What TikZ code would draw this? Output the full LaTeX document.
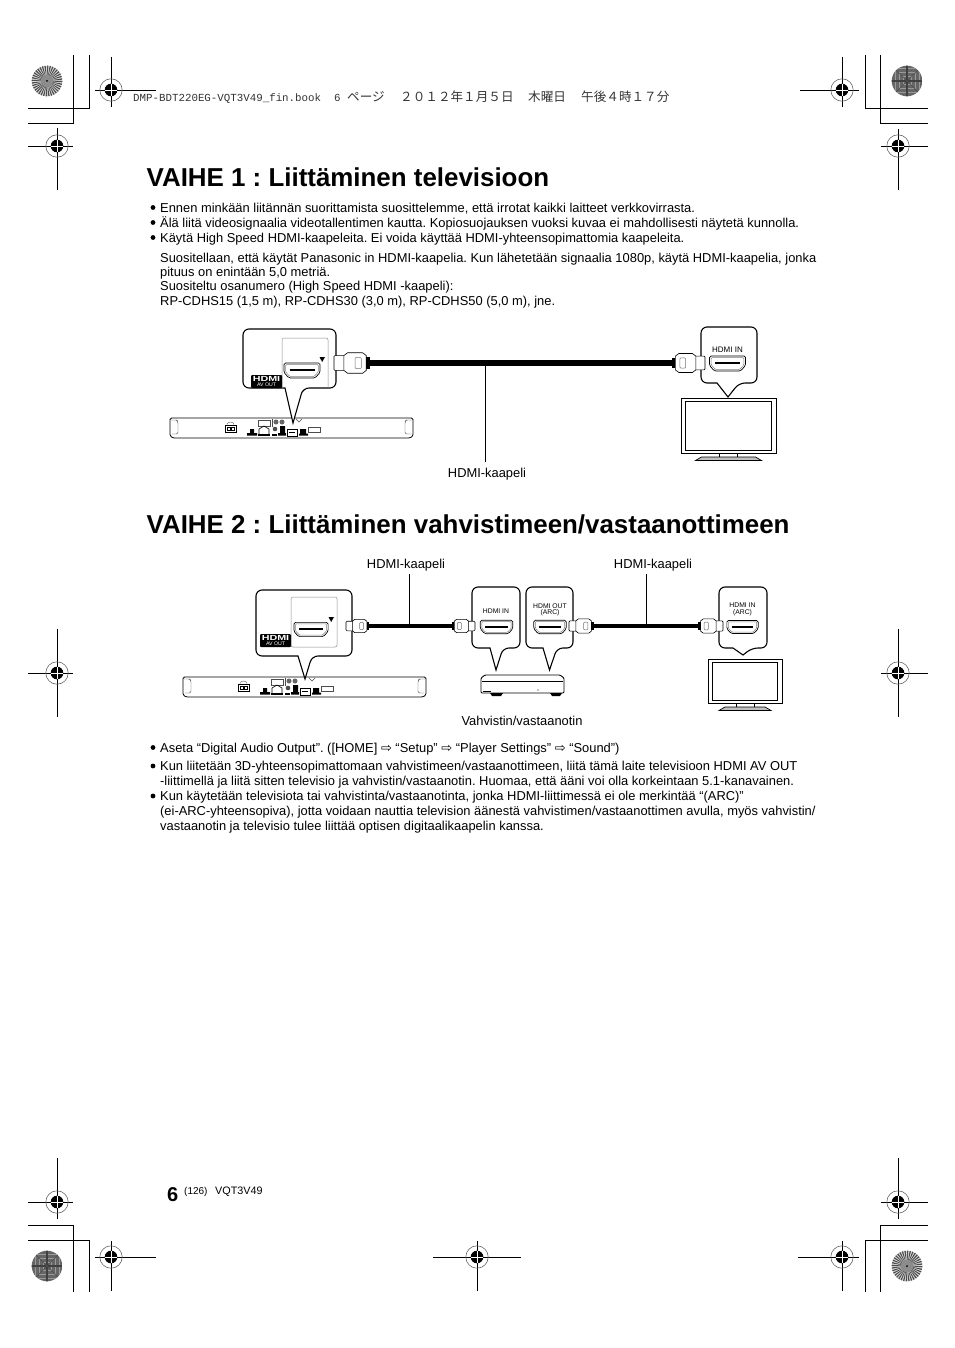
\documentclass[tikz,border=0pt]{standalone}
\usepackage{fontspec}
\setmainfont{Liberation Sans}
\setmonofont{Liberation Mono}
\newfontfamily\cjk{Noto Sans CJK JP}
\newfontfamily\arrowfont{DejaVu Sans}
\usepackage{xcolor}
\usepackage{tikz}
\frenchspacing

\tikzset{
  headtext/.style={anchor=base west,inner sep=0pt,text=black!80,font=\cjk\fontsize{12.6}{14}\selectfont},
  titletext/.style={anchor=base west,inner sep=0pt,font=\bfseries\fontsize{25.9}{30}\selectfont},
  bodytext/.style={anchor=base west,inner sep=0pt,font=\fontsize{12.9}{14}\selectfont},
  captext/.style={inner sep=0pt,font=\fontsize{12.9}{14}\selectfont},
  porttext/.style={inner sep=0pt,align=center,font=\fontsize{#1}{#1}\selectfont},
  cropline/.style={line width=0.8pt},
  callout/.style={draw,line width=1.1pt,fill=white},
  cable/.style={line width=5.5pt},
  thincable/.style={line width=3.6pt},
  leader/.style={line width=0.7pt},
}

% registration mark: x, y, left, right, up, down
\newcommand{\regmark}[6]{
  \draw[cropline] (#1-#3,#2) -- (#1+#4,#2) (#1,#2-#5) -- (#1,#2+#6);
  \draw[black!60,line width=0.6pt] (#1,#2) circle (11.2pt);
  \fill (#1,#2) circle (6.3pt);
  \draw[white,line width=0.7pt] (#1-6.3,#2) -- (#1+6.3,#2) (#1,#2-6.3) -- (#1,#2+6.3);
}
% round test patches
\newcommand{\stardisc}[2]{
  \fill[black!15] (#1,#2) circle (15.3pt);
  \foreach \a in {0,10,...,350}
    \fill[black!70] (#1,#2) -- +(\a:15.3) -- +(\a+5:15.3) -- cycle;
  \fill[black!45] (#1,#2) circle (6pt);
  \fill (#1,#2) circle (1pt);
}
\newcommand{\darkdisc}[2]{
  \begin{scope}
    \clip (#1,#2) circle (15.3pt);
    \fill[black!60] (#1-16,#2-16) rectangle (#1+16,#2+16);
    \foreach \r in {4,8,12}
      \draw[black!40,line width=1pt] (#1-\r,#2-\r) rectangle (#1+\r,#2+\r);
    \draw[black!75,line width=1.2pt] (#1-16,#2) -- (#1+16,#2) (#1,#2-16) -- (#1,#2+16);
    \draw[black!70,line width=0.6pt] (#1-16,#2-16) -- (#1+16,#2+16) (#1-16,#2+16) -- (#1+16,#2-16);
  \end{scope}
}
% callout with pointer: left, top, right, bottom, pointer left, pointer right, tip x, tip y
\newcommand{\calloutbox}[8]{
  \draw[callout] (#5,#4) [rounded corners=6pt] -- (#1,#4) -- (#1,#2) -- (#3,#2) -- (#3,#4) -- (#6,#4) [sharp corners] -- (#7,#8) -- cycle;
}
% socket: x, y, scale
\newcommand{\hdmiport}[3]{
  \begin{scope}[shift={(#1,#2)},scale=#3]
    \draw[line width=0.7pt,rounded corners=1.5pt,fill=white] (-18,-7.5) -- (18,-7.5) -- (18,2) -- (13,7.5) -- (-13,7.5) -- (-18,2) -- cycle;
    \draw[black!50,line width=0.5pt,rounded corners=1pt] (-16.3,-6) -- (16.3,-6) -- (16.3,1.5) -- (12,6) -- (-12,6) -- (-16.3,1.5) -- cycle;
    \draw[line width=2.2pt] (-12.5,-0.3) -- (12.5,-0.3);
  \end{scope}
}
% plug: x, y, direction, scale, name of the cable end
\newcommand{\hdmiplug}[5]{
  \begin{scope}[shift={(#1,#2)},xscale=#3*#4,yscale=#4]
    \draw[line width=0.6pt,fill=white,rounded corners=1pt] (0,-6) -- (9,-6) -- (9,6) -- (0,6) -- cycle;
    \draw[line width=0.6pt,fill=white] (8,-6) -- (11,-8.3) -- (23,-8.3) -- (26,-6) -- (26,6) -- (23,8.3) -- (11,8.3) -- (8,6) -- cycle;
    \draw[black!55,line width=0.5pt,rounded corners=1pt] (17,-4.5) rectangle (22,4.5);
    \fill (26,-4.5) rectangle (29,4.5);
    \coordinate (#5) at (29,0);
  \end{scope}
}
% player rear panel: x, y
\newcommand{\bdplayer}[2]{
  \begin{scope}[shift={(#1,#2)}]
    \draw[line width=0.8pt,fill=white,rounded corners=1.5pt] (0,0) -- (243,0) -- (243,18) -- (240,20) -- (3,20) -- (0,18) -- cycle;
    \draw[line width=0.4pt,black!70,rounded corners=1.5pt] (1,2) -- (7,2) -- (8,4) -- (8,16) -- (2,16)  (242,2) -- (236,2) -- (235,4) -- (235,16) -- (241,16);
    \draw[line width=0.5pt] (55,7) rectangle (66,14) (57,9) rectangle (60,12) (61,9) rectangle (64,12);
    \draw[line width=0.4pt,black!60] (57,6.5) arc (180:360:3.5 and 2.5);
    \fill (77,15) rectangle (87,17.5) (80,11) rectangle (84,15);
    \draw[line width=0.4pt,black!70] (88,2) rectangle (100,8);
    \draw[line width=0.6pt] (89,16) -- (89,11) -- (94,8) -- (99,11) -- (99,16);
    \fill (88,15.5) rectangle (100,17.5);
    \draw[line width=0.5pt,black!70] (102,1) -- (102,9);
    \fill[black!60] (106,4) circle (2.5pt) (112,4) circle (2.5pt);
    \fill[black!70] (105,11) circle (2.3pt);
    \fill (108,15) rectangle (116,17.5) (110,8) rectangle (115,15);
    \fill (102,15.5) rectangle (107,17.5);
    \draw[line width=0.5pt] (117,11) rectangle (127,18);
    \draw[line width=0.8pt] (119,14) -- (125,14);
    \fill (129,15.5) rectangle (138,17.5) (130,11) rectangle (136,15.5);
    \draw[line width=0.4pt,black!70] (138,9) rectangle (150,14);
    \draw[line width=0.4pt,black!70] (126,1) -- (129,4) -- (132,1);
  \end{scope}
}
% logo plate: x, y, width, height
\newcommand{\logoplate}[4]{
  \fill[rounded corners=1pt] (#1,#2) rectangle (#1+#3,#2+#4);
  \node[inner sep=0pt,text=white,font=\bfseries\fontsize{7.4}{7.4}\selectfont] at (#1+#3/2,#2+#4*0.31) {\scalebox{1.45}[1]{HDMI}};
  \node[inner sep=0pt,text=white,font=\fontsize{5.2}{5.2}\selectfont] at (#1+#3/2,#2+#4*0.78) {AV OUT};
}
% television: outer left, top, right, bottom, base half width
\newcommand{\tvset}[5]{
  \draw[line width=1pt] (#1,#2) rectangle (#3,#4);
  \draw[line width=0.6pt] (#1+4.5,#2+3.5) rectangle (#3-4.5,#4-3);
  \draw[line width=0.7pt] ({(#1+#3)/2-9},#4) -- ({(#1+#3)/2-9},#4+4) ({(#1+#3)/2+9},#4) -- ({(#1+#3)/2+9},#4+4);
  \draw[line width=0.7pt,fill=black!25] ({(#1+#3)/2-#5},#4+7.5) -- ({(#1+#3)/2-#5+6},#4+4) -- ({(#1+#3)/2+#5-6},#4+4) -- ({(#1+#3)/2+#5},#4+7.5) -- cycle;
}
\newcommand{\menuarrow}{{\arrowfont\fontsize{13}{14}\selectfont ⇨}}

\begin{document}
\begin{tikzpicture}[x=1pt,y=-1pt]
  \useasboundingbox (0,0) rectangle (954,1348);

  % printer's marks
  \regmark{111}{90}{16}{45}{33}{17}
  \regmark{57}{146}{29}{16}{18}{44}
  \regmark{842}{90}{42}{17}{33}{17}
  \regmark{898}{146}{17}{30}{17}{44}
  \regmark{57}{673}{29}{16}{44}{44}
  \regmark{898}{673}{17}{30}{44}{44}
  \regmark{57}{1202}{29}{16}{44}{17}
  \regmark{898}{1202}{17}{30}{44}{17}
  \regmark{111}{1257}{16}{45}{16}{34}
  \regmark{842}{1257}{44}{17}{16}{34}
  \regmark{477}{1257}{44}{44}{16}{34}
  \draw[cropline] (73,55) -- (73,123) -- (28,123) (89,55) -- (89,108) -- (28,108);
  \draw[cropline] (865,55) -- (865,108) -- (928,108) (880,55) -- (880,123) -- (928,123);
  \draw[cropline] (73,1292) -- (73,1225) -- (28,1225) (89,1292) -- (89,1240) -- (28,1240);
  \draw[cropline] (880,1292) -- (880,1225) -- (928,1225) (865,1292) -- (865,1240) -- (928,1240);
  \stardisc{47}{81}
  \darkdisc{907}{81}
  \darkdisc{47}{1266}
  \stardisc{907}{1266}

  % running head
  \node[headtext,font=\ttfamily\fontsize{10.8}{12}\selectfont] (headfile) at (133,102) {DMP-BDT220EG-VQT3V49\_fin.book};
  \node[headtext,font=\ttfamily\fontsize{10.8}{12}\selectfont] (headpage) at (334,102) {6};
  \node[headtext] (headkana) at (347,102) {ページ};
  \node[headtext] (headdate) at (400,102) {２０１２年１月５日};
  \node[headtext] (headday) at (528,102) {木曜日};
  \node[headtext] (headtime) at (581,102) {午後４時１７分};

  % first section
  \node[titletext] (titleone) at (146.5,187) {VAIHE 1 : Liittäminen televisioon};
  \foreach \by in {207.5,222.5,237.5,747.5,766,796}
    \fill (153,\by) circle (2.4pt);
  \node[bodytext] (lineone) at (160,213) {Ennen minkään liitännän suorittamista suosittelemme, että irrotat kaikki laitteet verkkovirrasta.};
  \node[bodytext] (linetwo) at (160,228) {Älä liitä videosignaalia videotallentimen kautta. Kopiosuojauksen vuoksi kuvaa ei mahdollisesti näytetä kunnolla.};
  \node[bodytext] (linethree) at (160,243) {Käytä High Speed HDMI-kaapeleita. Ei voida käyttää HDMI-yhteensopimattomia kaapeleita.};
  \node[bodytext] (linefour) at (160,262) {Suositellaan, että käytät Panasonic in HDMI-kaapelia. Kun lähetetään signaalia 1080p, käytä HDMI-kaapelia, jonka};
  \node[bodytext] (linefive) at (160,276.5) {pituus on enintään 5,0 metriä.};
  \node[bodytext] (linesix) at (160,290.5) {Suositeltu osanumero (High Speed HDMI -kaapeli):};
  \node[bodytext] (lineseven) at (160,305.5) {RP-CDHS15 (1,5 m), RP-CDHS30 (3,0 m), RP-CDHS50 (5,0 m), jne.};

  % player to television
  \bdplayer{170}{418}
  \calloutbox{243}{329}{336}{388}{285}{303}{293}{423}
  \draw[black!45,line width=0.5pt,rounded corners=2pt] (282,388) -- (282,338) -- (328,338) -- (328,388);
  \fill (319.5,357) -- (325,357) -- (322.2,362) -- cycle;
  \hdmiport{302}{370.5}{1}
  \logoplate{251}{375}{31}{13}
  \hdmiplug{334}{363}{1}{1.24}{plugone}
  \tvset{681}{398}{776}{453}{33}
  \calloutbox{701}{327}{757}{383}{717}{739}{728}{397}
  \node[porttext=8] (inone) at (727.5,349.5) {HDMI IN};
  \hdmiport{727.5}{363.5}{1}
  \hdmiplug{705}{363}{-1}{1.14}{plugtwo}
  \draw[cable] (plugone) -- (plugtwo);
  \coordinate (leadone) at (485,363);
  \node[captext] (capone) at (487,474.5) {HDMI-kaapeli};
  \draw[leader] (leadone) -- (leadone |- 0,462);

  % second section
  \node[titletext] (titletwo) at (146.5,533) {VAIHE 2 : Liittäminen vahvistimeen/vastaanottimeen};
  \node[captext] (captwo) at (406,565) {HDMI-kaapeli};
  \node[captext] (capthree) at (653,565) {HDMI-kaapeli};

  % player, amplifier and television
  \bdplayer{183}{677}
  \calloutbox{256}{590}{352}{656}{298}{312}{305}{679}
  \draw[black!45,line width=0.5pt,rounded corners=2pt] (291,647) -- (291,597) -- (337,597) -- (337,647) -- cycle;
  \fill (328.5,617) -- (334,617) -- (331.2,622) -- cycle;
  \hdmiport{311}{629.5}{0.95}
  \logoplate{260}{634}{31}{13}
  \hdmiplug{346}{626}{1}{0.8}{plugthree}

  \draw[line width=0.9pt,fill=white,rounded corners=1pt] (481,678) -- (485,675) -- (560,675) -- (564,678) -- (564,693) -- (481,693) -- cycle;
  \draw[line width=0.5pt] (482,681) -- (563,681);
  \fill (483,691) rectangle (491,692);
  \fill (538,690) circle (0.6pt);
  \fill (490,693) -- (503,693) -- (501,696) -- (492,696) -- cycle;
  \fill (550,693) -- (562,693) -- (560,696) -- (552,696) -- cycle;
  \calloutbox{472}{587}{520}{648}{490}{503}{496}{670}
  \node[porttext=6.8] (infour) at (496,611) {HDMI IN};
  \hdmiport{496.5}{627}{0.9}
  \hdmiplug{475}{626}{-1}{0.8}{plugfour}
  \calloutbox{526}{587}{573}{648}{543}{557}{549.5}{670}
  \node[porttext=6.8] (outfive) at (550,609.5) {HDMI OUT\\[-0.5pt](ARC)};
  \hdmiport{550}{627}{0.9}
  \hdmiplug{569}{626}{1}{0.86}{plugfive}
  \tvset{708}{659}{782}{703}{26}
  \calloutbox{719}{587}{767}{648}{733}{752}{743}{655}
  \node[porttext=6.8] (insix) at (742.5,609.5) {HDMI IN\\[-0.5pt](ARC)};
  \hdmiport{742.5}{627}{0.87}
  \hdmiplug{723}{626}{-1}{0.86}{plugsix}
  \draw[thincable] (plugthree) -- (plugfour);
  \draw[thincable] (plugfive) -- (plugsix);
  \coordinate (leadtwo) at (409,626);
  \coordinate (leadthree) at (646,626);
  \draw[leader] (leadtwo) -- (leadtwo |- 0,574);
  \draw[leader] (leadthree) -- (leadthree |- 0,574);
  \node[captext] (capfour) at (522,721) {Vahvistin/vastaanotin};

  \node[bodytext] (lineeight) at (160,752) {Aseta “Digital Audio Output”. ([HOME] \menuarrow{} “Setup” \menuarrow{} “Player Settings” \menuarrow{} “Sound”)};
  \node[bodytext] (linenine) at (160,770.5) {Kun liitetään 3D-yhteensopimattomaan vahvistimeen/vastaanottimeen, liitä tämä laite televisioon HDMI AV OUT};
  \node[bodytext] (lineten) at (160,785.5) {-liittimellä ja liitä sitten televisio ja vahvistin/vastaanotin. Huomaa, että ääni voi olla korkeintaan 5.1-kanavainen.};
  \node[bodytext] (lineeleven) at (160,800.5) {Kun käytetään televisiota tai vahvistinta/vastaanotinta, jonka HDMI-liittimessä ei ole merkintää “(ARC)”};
  \node[bodytext] (linetwelve) at (160,815.5) {(ei-ARC-yhteensopiva), jotta voidaan nauttia television äänestä vahvistimen/vastaanottimen avulla, myös vahvistin/};
  \node[bodytext] (linethirteen) at (160,830.5) {vastaanotin ja televisio tulee liittää optisen digitaalikaapelin kanssa.};

  % page number
  \node[bodytext,font=\bfseries\fontsize{20}{20}\selectfont] (pagenum) at (167,1201) {6};
  \node[bodytext,font=\fontsize{10}{10}\selectfont] (pagetot) at (184,1194) {(126)};
  \node[bodytext,font=\fontsize{10.8}{10}\selectfont] (pagecode) at (215,1194) {VQT3V49};
\end{tikzpicture}
\end{document}
